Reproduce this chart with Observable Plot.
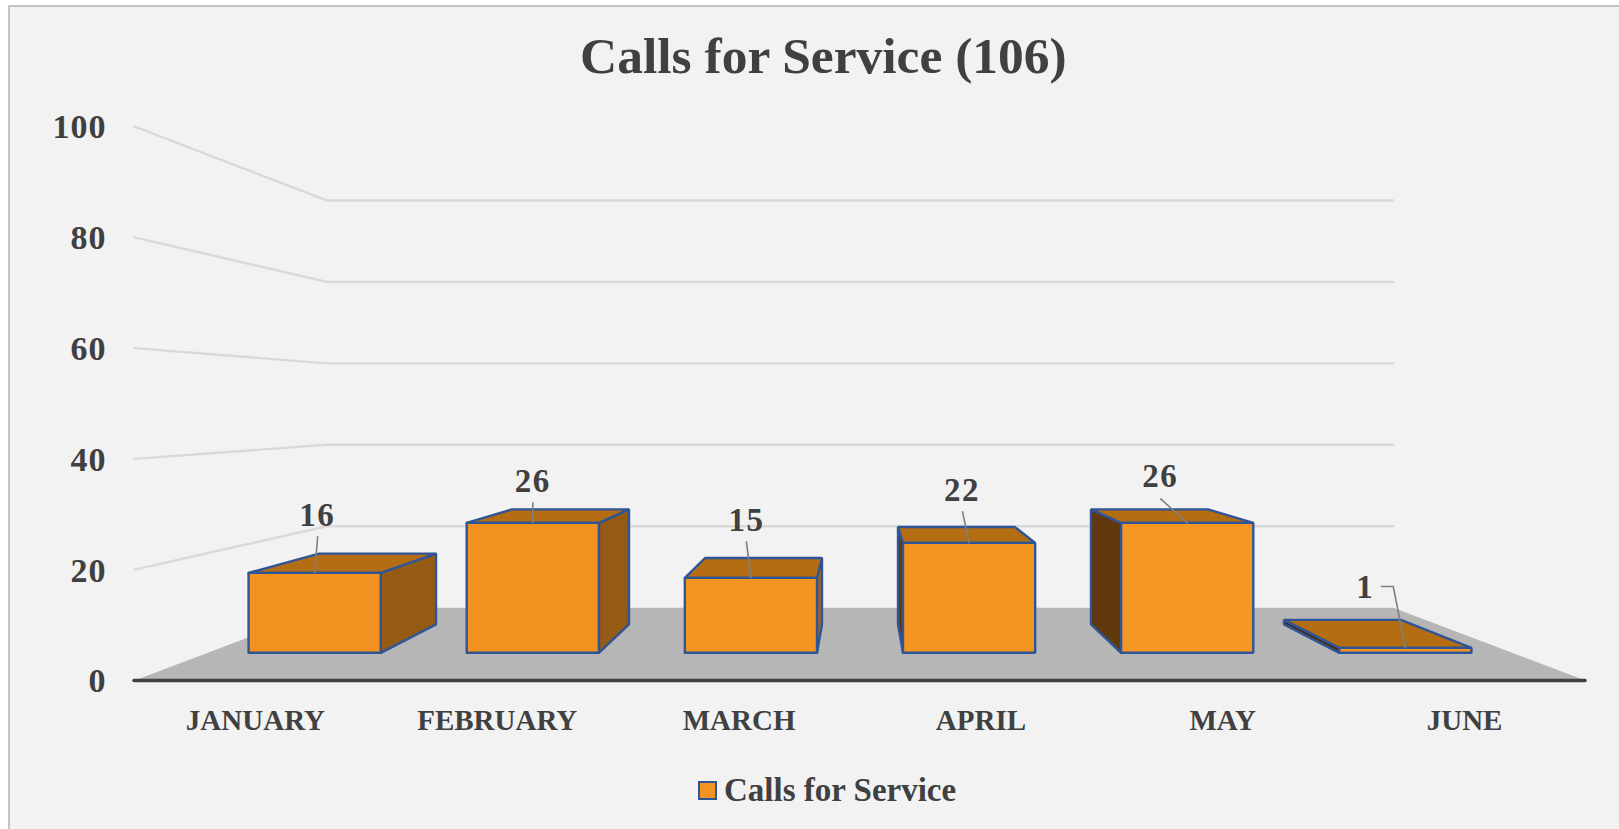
<!DOCTYPE html>
<html>
<head>
<meta charset="utf-8">
<script src="https://cdn.jsdelivr.net/npm/d3@7"></script>
<script src="https://cdn.jsdelivr.net/npm/@observablehq/plot@0.6"></script>
<style>
  html, body { margin: 0; padding: 0; background: #fff; overflow: hidden; }
  #panel { position: relative; width: 1619px; height: 829px; font-family: "Liberation Serif", serif; font-weight: 700; color: #404040; }
  #frame { position: absolute; left: 8px; top: 5px; right: -10px; bottom: -10px; background: #f2f2f2; border: 2px solid #c4c4c4; }
  #title { position: absolute; left: 580px; top: 0; width: 484px; height: 110px; text-align: center; font-size: 51.5px; line-height: 1; padding-top: 30px; box-sizing: border-box; white-space: nowrap; }
  #chart { position: absolute; left: 0; top: 110px; }
  #legend { position: absolute; left: 698px; top: 760px; height: 60px; display: flex; align-items: center; font-size: 33px; white-space: nowrap; }
  #legend i { display: block; width: 15px; height: 15px; background: #f39422; border: 2px solid #2f5597; margin-right: 7px; margin-top: 1px; }
  svg { background: transparent !important; }
  g[aria-label="text"] text { letter-spacing: 1.5px; }
  g[aria-label="y-axis tick label"] text { letter-spacing: 1px; }
</style>
</head>
<body>
<div id="panel">
  <div id="frame"></div>
  <div id="title">Calls for Service (106)</div>
  <div id="chart"></div>
  <div id="legend"><i></i><span>Calls for Service</span></div>
</div>
<script>
// ---- data ----
const months = ["JANUARY", "FEBRUARY", "MARCH", "APRIL", "MAY", "JUNE"];
const calls = [16, 26, 15, 22, 26, 1];
const valueTicks = [0, 20, 40, 60, 80, 100];

// ---- layout of the Excel-style 3D view (perspective, in data units) ----
const vanishX = 3, vanishY = 49.6;           // vanishing point: category units, value units
const depthFront = 1, depthBack = 0.735;     // floor and wall
const barFront = 0.902, barBack = 0.798;     // bars
const barHalf = 0.303;                       // half bar width in category units
const barLift = 0.15;                        // bars stand this far above the projected floor, value units
const width = 1619, height = 650;
const marginLeft = 134, marginRight = 34, marginTop = 16, marginBottom = 80;
const pxX = 6 / (width - marginLeft - marginRight);
const pxY = 100 / (height - marginTop - marginBottom);

const px = (cat, s) => vanishX + s * (cat - vanishX);
const py = (val, s) => vanishY + s * (val - vanishY);
const pt = (cat, val, s, id, extra) => ({x: px(cat, s), y: py(val, s), id, ...extra});

// label offsets from the top-front edge centre of each bar, pixels: [label dx, dy], [leader start dx, dy]
const labelShift = [[2.5, -57], [0, -41], [-4.5, -57], [-7, -52.6], [-27, -46.6], [-40, -60]];
const leaderShift = [[3, -36], [0, -20], [-4.5, -36], [-6.5, -31], [-26.5, -24], [-23.8, -61.3]];
const leaderElbow = [null, null, null, null, null, [-12.1, -61.3]];

// ---- geometry built from the data ----
const grid = valueTicks.filter(v => v > 0).flatMap(v => [
  pt(0, v, depthFront, v), pt(0, v, depthBack, v), pt(6, v, depthBack, v)
]);
const floor = [pt(0, 0, 1, "f"), pt(0, 0, depthBack, "f"), pt(6, 0, depthBack, "f"), pt(6, 0, 1, "f")];

const faces = [];
const face = (id, color, corners) => {
  [...corners, corners[0]].forEach(([c, v, s]) => faces.push(pt(c, v + barLift, s, id, {color})));
};
const frontColors = ["#f09120", "#f09120", "#f49522", "#f49522", "#f69723", "#f39422"];
calls.forEach((v, i) => {
  const a = i + 0.5 - barHalf, b = i + 0.5 + barHalf;
  if (px(a, barBack) < px(a, barFront))
    face(`l${i}`, i === 5 ? "#4a2c0a" : "#5f380c", [[a,0,barFront],[a,0,barBack],[a,v,barBack],[a,v,barFront]]);
  if (px(b, barBack) > px(b, barFront))
    face(`r${i}`, i === 2 ? "#a86610" : "#955b12", [[b,0,barFront],[b,0,barBack],[b,v,barBack],[b,v,barFront]]);
  face(`t${i}`, "#b56d14", [[a,v,barFront],[a,v,barBack],[b,v,barBack],[b,v,barFront]]);
  face(`f${i}`, frontColors[i], [[a,0,barFront],[b,0,barFront],[b,v,barFront],[a,v,barFront]]);
});

const anchor = calls.map((v, i) => ({x: px(i + 0.5, barFront), y: py(v, barFront) + barLift}));
const labels = calls.map((v, i) => ({
  x: anchor[i].x + labelShift[i][0] * pxX,
  y: anchor[i].y - labelShift[i][1] * pxY,
  text: String(v)
}));
const leaders = calls.flatMap((v, i) => {
  const at = (d) => ({x: anchor[i].x + d[0] * pxX, y: anchor[i].y - d[1] * pxY, id: i});
  return [at(leaderShift[i]), ...(leaderElbow[i] ? [at(leaderElbow[i])] : []), {...anchor[i], id: i}];
});

const font = {fontFamily: "Liberation Serif", fontWeight: 700};

const plot = Plot.plot({
  width, height, marginLeft, marginRight, marginTop, marginBottom,
  style: {background: "transparent", overflow: "visible"},
  x: {domain: [0, 6]},
  y: {domain: [0, 100]},
  color: {type: "identity"},
  marks: [
    Plot.line(grid, {x: "x", y: "y", z: "id", stroke: "#d9d9d9", strokeWidth: 2.4}),
    Plot.line(floor, {x: "x", y: "y", z: "id", fill: "#b6b6b6", stroke: "none"}),
    Plot.ruleY([0], {x1: 0, x2: 6, stroke: "#404040", strokeWidth: 3.5, strokeLinecap: "round"}),
    Plot.line(faces, {x: "x", y: "y", z: "id", fill: "color", stroke: "#2f5597", strokeWidth: 2.4, strokeLinejoin: "miter"}),
    Plot.line(leaders, {x: "x", y: "y", z: "id", stroke: "#7f7f7f", strokeWidth: 1.6}),
    Plot.text(labels, {x: "x", y: "y", text: "text", fontSize: 33, fill: "#404040", ...font}),
    Plot.axisY({ticks: valueTicks, tickSize: 0, tickPadding: 28, dy: 1, label: null, fontSize: 34, fill: "#404040", ...font}),
    Plot.axisX({ticks: months.map((m, i) => i + 0.5), tickFormat: d => months[d - 0.5], tickSize: 0, tickPadding: 29, label: null, fontSize: 29, fill: "#404040", ...font})
  ]
});
document.getElementById("chart").appendChild(plot);
</script>
</body>
</html>
